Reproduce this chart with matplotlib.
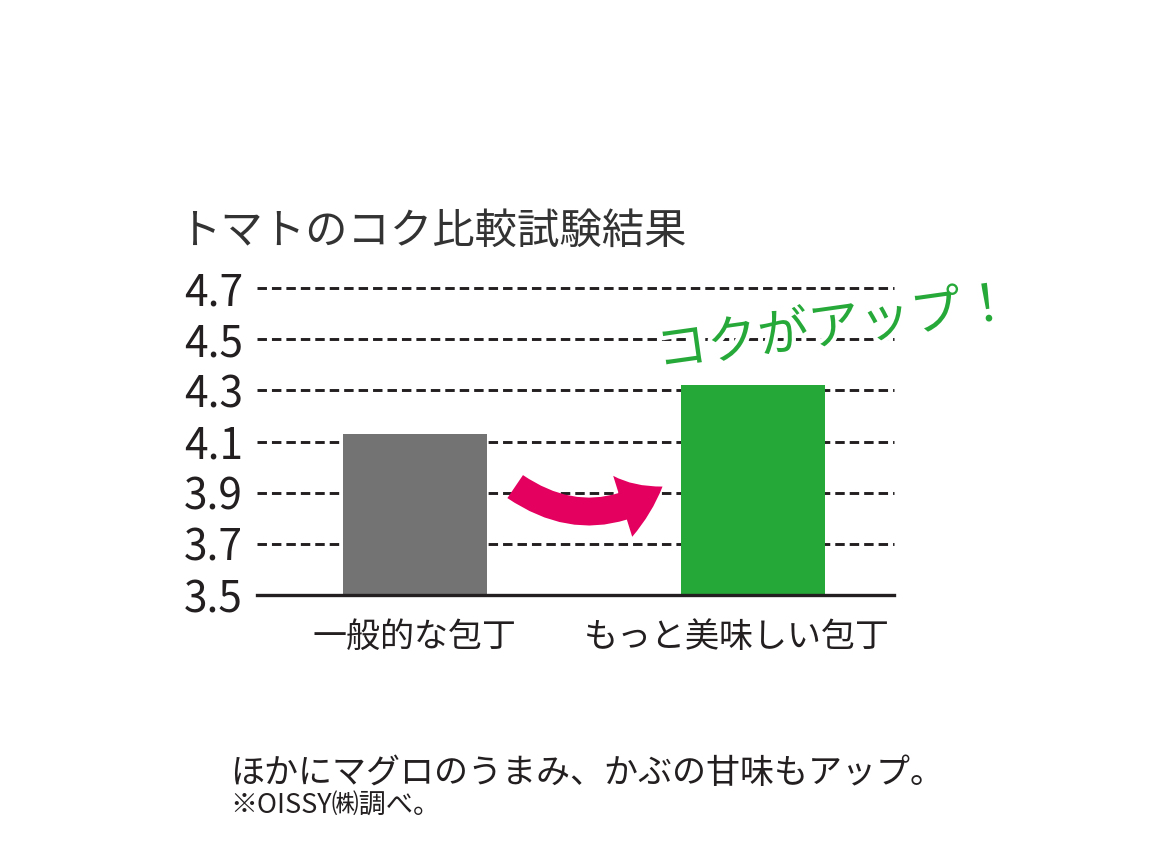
import matplotlib
matplotlib.use('Agg')
import matplotlib.pyplot as plt
import matplotlib.patheffects as pe
import matplotlib.transforms as mtransforms
from matplotlib.patches import FancyArrowPatch

plt.rcParams['font.family'] = ['Noto Sans CJK JP', 'DejaVu Sans']
plt.rcParams['lines.scale_dashes'] = False

# data
categories = ['一般的な包丁', 'もっと美味しい包丁']
scores = [4.13, 4.32]
bar_colors = ['#737373', '#25a838']
y_ticks = [3.5, 3.7, 3.9, 4.1, 4.3, 4.5, 4.7]
y_labels = ['3.5', '3.7', '3.9', '4.1', '4.3', '4.5', '4.7']

TITLE = 'トマトのコク比較試験結果'
CALLOUT = 'コクがアップ！'
NOTE = 'ほかにマグロのうまみ、かぶの甘味もアップ。'
SOURCE = '※OISSY㈱調べ。'

TEXT = '#231f20'

fig = plt.figure(figsize=(11.56, 8.68), dpi=100)
ax = fig.add_axes([0.2223, 0.3145, 0.5511, 0.3537])

x = list(range(len(categories)))
ax.bar(x, [s - y_ticks[0] for s in scores], bottom=y_ticks[0], width=0.427,
       color=bar_colors, zorder=2)

# dashed grid, solid baseline
ax.hlines(y_ticks[1:], -0.468, 1.419, colors='#231f20', linewidth=2.1,
          linestyles=(0, (6.8, 3.6)), zorder=1, clip_on=False)
ax.axhline(y_ticks[0], color='#231f20', linewidth=2.4, zorder=3, clip_on=False)

ax.set_xlim(-0.468, 1.419)
ax.set_ylim(y_ticks[0], y_ticks[-1])
ax.set_yticks(y_ticks, y_labels)
ax.set_xticks(x, categories)
ax.tick_params(axis='y', length=0, pad=10, labelsize=30.5, labelcolor=TEXT)
ax.tick_params(axis='x', length=0, pad=18, labelsize=24.5, labelcolor=TEXT)
lbl = ax.get_xticklabels()[1]
lbl.set_transform(lbl.get_transform()
                  + mtransforms.ScaledTranslation(-0.16, 0, fig.dpi_scale_trans))
for s in ax.spines.values():
    s.set_visible(False)
ax.patch.set_visible(False)

# curved pink arrow between bars
arrow = FancyArrowPatch((0.29, 3.93), (0.74, 3.93),
                        connectionstyle='arc3,rad=0.35',
                        arrowstyle='simple,head_width=2.3,head_length=1.6,tail_width=1.0',
                        mutation_scale=20, color='#e4005f', lw=0, zorder=4)
ax.add_patch(arrow)

fig.text(0.154, 0.733, TITLE, fontsize=30.5, color='#333333', va='center', ha='left')
fig.text(0.722, 0.622, CALLOUT, fontsize=37, color='#27a93a', va='center', ha='center',
         rotation=8, path_effects=[pe.withStroke(linewidth=6, foreground='white')])
fig.text(0.199, 0.109, NOTE, fontsize=24.5, color=TEXT, va='center', ha='left')
fig.text(0.199, 0.072, SOURCE, fontsize=19.5, color=TEXT, va='center', ha='left')

fig.savefig('out.png', dpi=100, facecolor='white')
